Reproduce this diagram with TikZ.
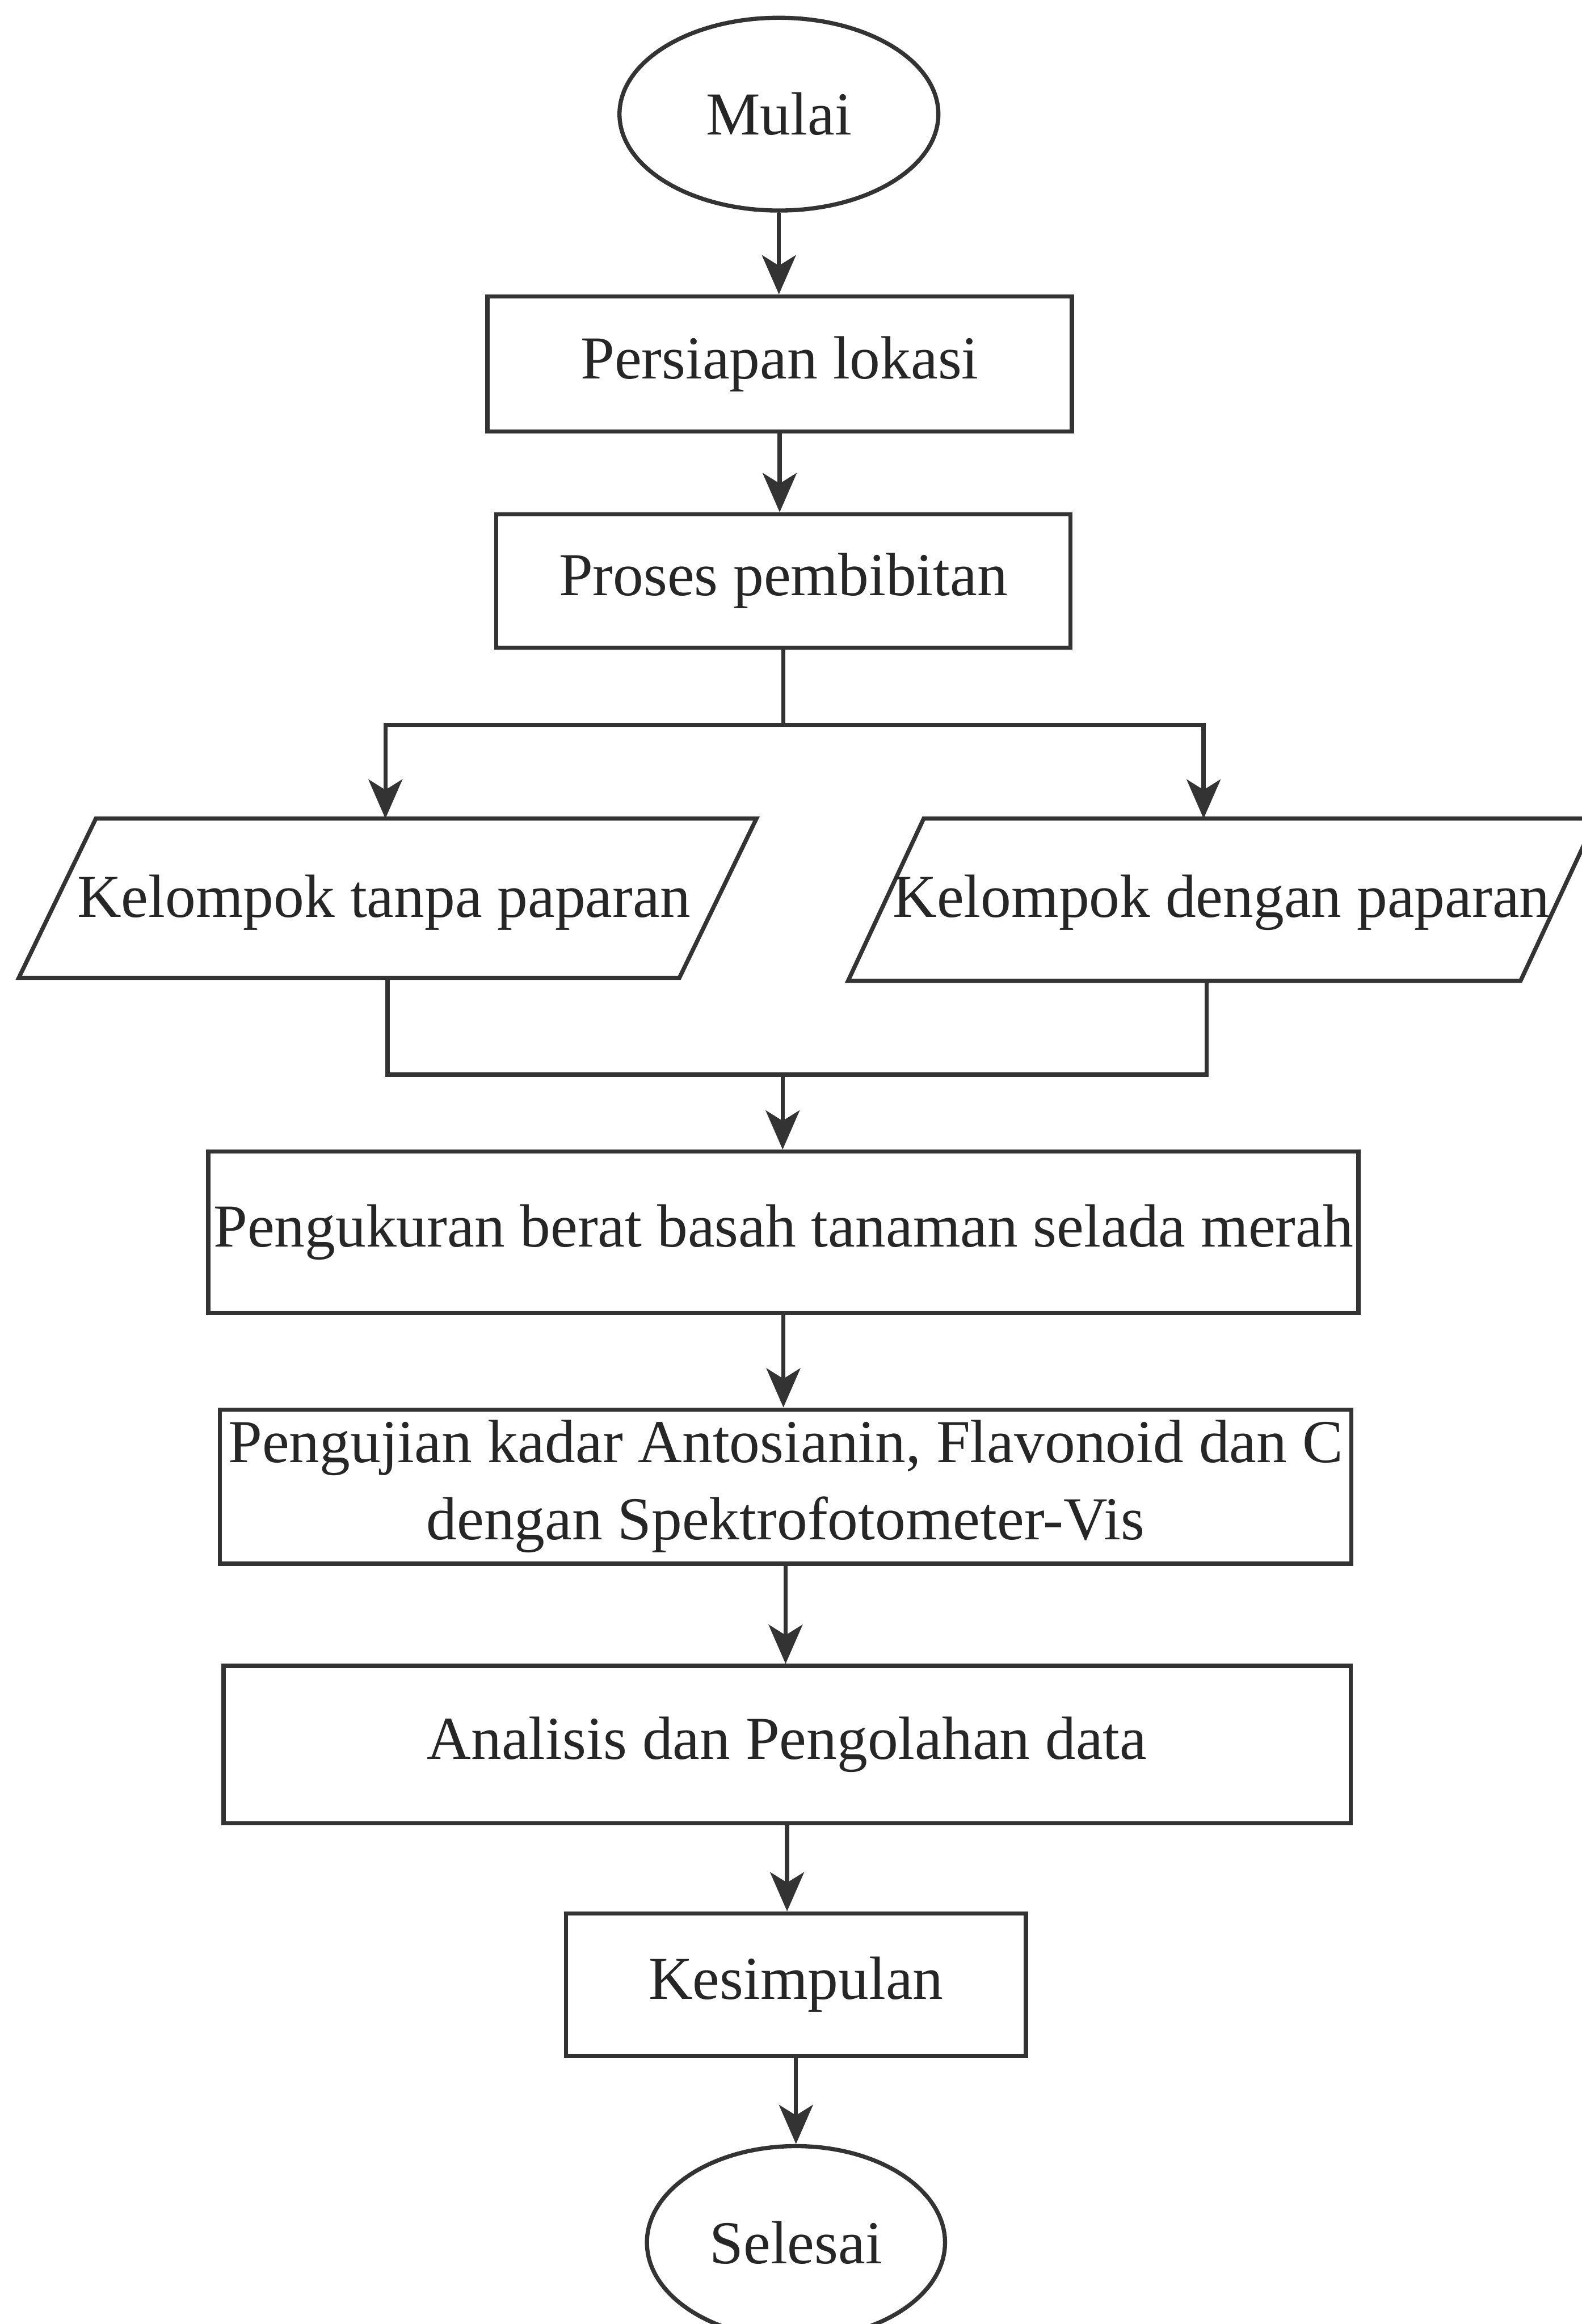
\documentclass[tikz,border=0pt]{standalone}
\usepackage{fontspec}
\setmainfont{Liberation Serif}
\usetikzlibrary{arrows.meta,shapes.geometric,calc}
\begin{document}
\begin{tikzpicture}[x=0.01cm,y=-0.01cm,
  every node/.style={font=\fontsize{11.7pt}{14.8pt}\selectfont, text=black!85},
  ln/.style={line width=0.8pt, draw=black!80},
  arr/.style={ln, -{Stealth[length=7.5pt,width=6.5pt,inset=2pt]}},
  boxnode/.style={ln, rectangle, inner sep=1pt, align=center},
  termnode/.style={ln, ellipse, inner sep=0pt},
  paranode/.style={rectangle, inner sep=0pt, align=center}
]
\useasboundingbox (0,0) rectangle (1067,1568);
\fill[white] (0,0) rectangle (1067,1568);

\node[termnode, minimum width=2.15cm, minimum height=1.30cm] (mulai) at (525.5,77) {Mulai};
\node[boxnode, minimum width=3.94cm, minimum height=0.91cm] (lokasi) at (526,245.5) {Persiapan lokasi};
\node[boxnode, minimum width=3.87cm, minimum height=0.90cm] (bibit) at (528.5,392) {Proses pembibitan};

\node[paranode, minimum width=4.44cm, minimum height=1.06cm] (k1) at (261.5,606) {};
\draw[ln] ($(k1.north west)+(26,0)$) -- ($(k1.north east)+(26,0)$) -- ($(k1.south east)+(-26,0)$) -- ($(k1.south west)+(-26,0)$) -- cycle;
\node at (259,609) {Kelompok tanpa paparan};

\node[paranode, minimum width=4.52cm, minimum height=1.08cm] (k2) at (824.5,607) {};
\draw[ln] ($(k2.north west)+(25.5,0)$) -- ($(k2.north east)+(25.5,0)$) -- ($(k2.south east)+(-25.5,0)$) -- ($(k2.south west)+(-25.5,0)$) -- cycle;
\node at (824,609) {Kelompok dengan paparan};

\node[boxnode, minimum width=7.75cm, minimum height=1.09cm] (ukur) at (528.5,831.5) {Pengukuran berat basah tanaman selada merah};
\node[boxnode, minimum width=7.63cm, minimum height=1.04cm] (uji) at (530,1003) {Pengujian kadar Antosianin, Flavonoid dan C\\dengan Spektrofotometer-Vis};
\node[boxnode, minimum width=7.60cm, minimum height=1.06cm] (analisis) at (531,1177) {Analisis dan Pengolahan data};
\node[boxnode, minimum width=3.10cm, minimum height=0.96cm] (simpul) at (537,1339) {Kesimpulan};
\node[termnode, minimum width=2.01cm, minimum height=1.30cm] (selesai) at (537,1513) {Selesai};

% connectors
\draw[arr] (mulai.south) -- (mulai.south |- lokasi.north);
\draw[arr] (lokasi.south) -- (lokasi.south |- bibit.north);

\coordinate (split) at (528.5,489);
\draw[ln] (bibit.south) -- (split);
\draw[arr] (split) -| ($(k1.north)+(-1.5,0)$);
\draw[arr] (split) -| ($(k2.north)+(-12.5,0)$);

\coordinate (merge) at (528,725);
\draw[ln] (k1.south) |- (merge);
\draw[ln] ($(k2.south)+(-10.5,0)$) |- (merge);
\draw[arr] (merge) -- (merge |- ukur.north);

\draw[arr] (ukur.south) -- (ukur.south |- uji.north);
\draw[arr] (uji.south) -- (uji.south |- analisis.north);
\draw[arr] (analisis.south) -- (analisis.south |- simpul.north);
\draw[arr] (simpul.south) -- (simpul.south |- selesai.north);
\end{tikzpicture}
\end{document}
